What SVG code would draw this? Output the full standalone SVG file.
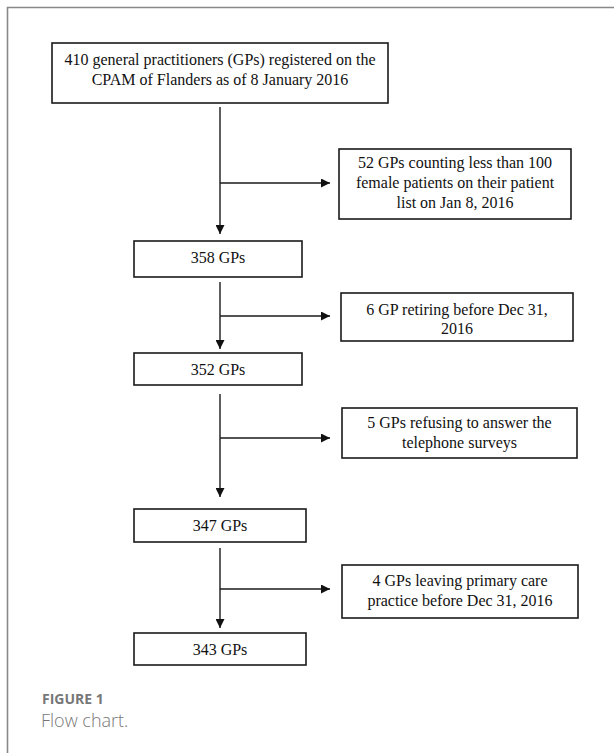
<svg xmlns="http://www.w3.org/2000/svg" width="614" height="753" viewBox="0 0 614 753">
<defs>
<style>
.box{fill:#fff;stroke:#1a1a1a;stroke-width:1.6}
.t{font-family:"Liberation Serif","Times New Roman",serif;font-size:16px;fill:#111;text-anchor:middle}
.ln{fill:none;stroke:#1a1a1a;stroke-width:1.4}
.cap1{font-family:"Open Sans","Noto Sans",sans-serif;font-size:14px;font-weight:bold;fill:#777}
.cap2{font-family:"Open Sans","Noto Sans",sans-serif;font-size:18px;font-weight:300;fill:#777}
</style>
<marker id="ah" markerUnits="userSpaceOnUse" markerWidth="9" markerHeight="9" refX="9" refY="4.5" orient="auto">
<path d="M0,0 L9,4.5 L0,9 z" fill="#111"/>
</marker>
</defs>
<rect x="0" y="0" width="614" height="753" fill="#fff"/>
<path d="M7.5,760 L7.5,7.5 L620,7.5" fill="none" stroke="#888" stroke-width="1.6"/>

<g id="n1">
<rect class="box" x="52" y="43" width="336" height="60"/>
<text class="t" x="220" y="65">410 general practitioners (GPs) registered on the</text>
<text class="t" x="220" y="85">CPAM of Flanders as of 8 January 2016</text>
</g>
<g id="e1">
<rect class="box" x="339" y="149" width="232" height="70"/>
<text class="t" x="455" y="168">52 GPs counting less than 100</text>
<text class="t" x="455" y="188">female patients on their patient</text>
<text class="t" x="455" y="208">list on Jan 8, 2016</text>
</g>
<g id="n2">
<rect class="box" x="134" y="241" width="168" height="36"/>
<text class="t" x="218" y="262.5">358 GPs</text>
</g>
<g id="e2">
<rect class="box" x="341" y="293" width="232" height="48"/>
<text class="t" x="457" y="315">6 GP retiring before Dec 31,</text>
<text class="t" x="457" y="334">2016</text>
</g>
<g id="n3">
<rect class="box" x="134" y="353" width="168" height="32"/>
<text class="t" x="218" y="374.5">352 GPs</text>
</g>
<g id="e3">
<rect class="box" x="342" y="408" width="235" height="50"/>
<text class="t" x="459.5" y="428">5 GPs refusing to answer the</text>
<text class="t" x="459.5" y="448">telephone surveys</text>
</g>
<g id="n4">
<rect class="box" x="134" y="509" width="172" height="33"/>
<text class="t" x="220" y="530.5">347 GPs</text>
</g>
<g id="e4">
<rect class="box" x="342" y="565" width="236" height="53"/>
<text class="t" x="460" y="586">4 GPs leaving primary care</text>
<text class="t" x="460" y="605.5">practice before Dec 31, 2016</text>
</g>
<g id="n5">
<rect class="box" x="134" y="633" width="172" height="32"/>
<text class="t" x="220" y="654.5">343 GPs</text>
</g>

<g id="connectors">
<line class="ln" x1="220" y1="107" x2="220" y2="234" marker-end="url(#ah)"/>
<line class="ln" x1="220" y1="183" x2="330" y2="183" marker-end="url(#ah)"/>
<line class="ln" x1="220" y1="282" x2="220" y2="349" marker-end="url(#ah)"/>
<line class="ln" x1="220" y1="316" x2="330" y2="316" marker-end="url(#ah)"/>
<line class="ln" x1="220" y1="394" x2="220" y2="497" marker-end="url(#ah)"/>
<line class="ln" x1="220" y1="438" x2="330" y2="438" marker-end="url(#ah)"/>
<line class="ln" x1="220" y1="548" x2="220" y2="628" marker-end="url(#ah)"/>
<line class="ln" x1="220" y1="589" x2="330" y2="589" marker-end="url(#ah)"/>
</g>

<text class="cap1" x="42" y="704">FIGURE 1</text>
<text class="cap2" x="41" y="727">Flow chart.</text>
</svg>
